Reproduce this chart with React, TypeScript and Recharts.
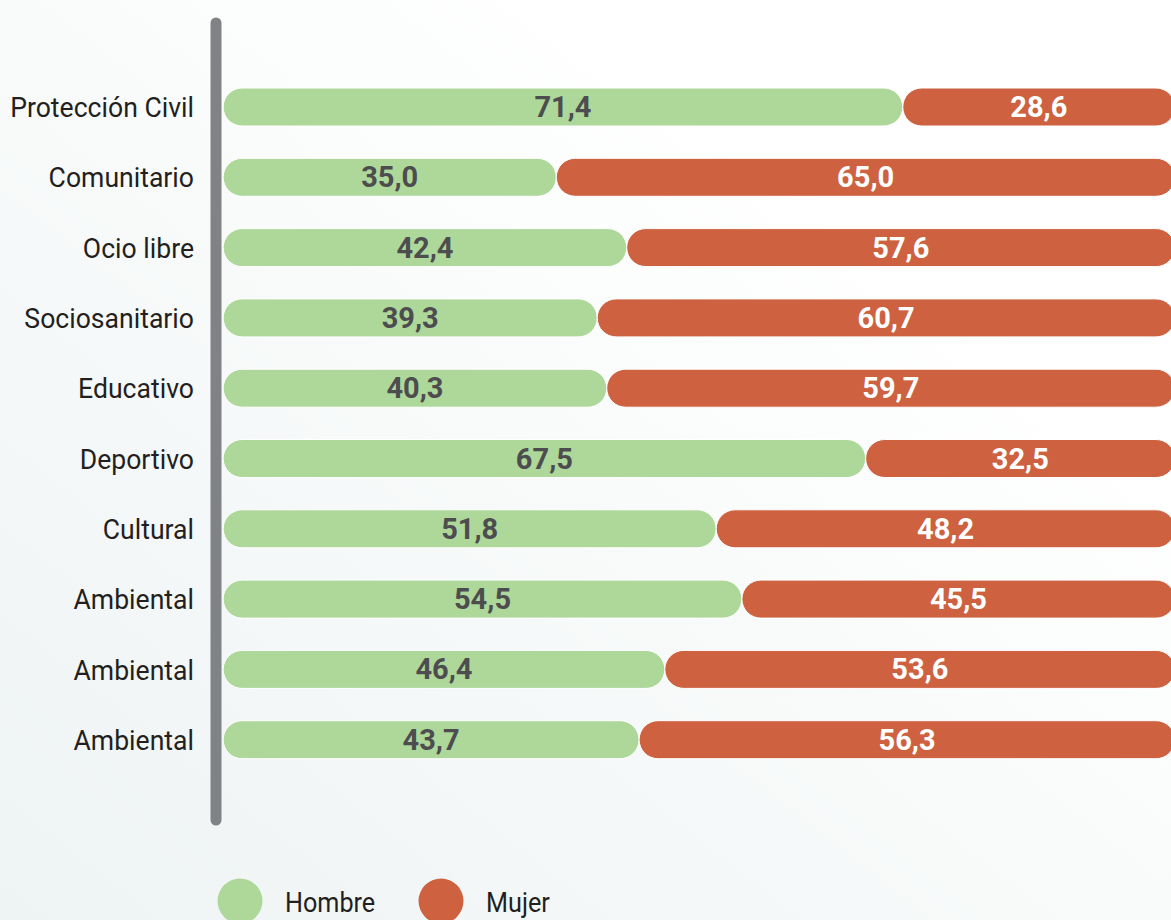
import { BarChart, Bar, XAxis, YAxis, LabelList } from "recharts";

const categories = [
  "Protección Civil",
  "Comunitario",
  "Ocio libre",
  "Sociosanitario",
  "Educativo",
  "Deportivo",
  "Cultural",
  "Ambiental",
  "Ambiental",
  "Ambiental",
];
const hombre = [71.4, 35.0, 42.4, 39.3, 40.3, 67.5, 51.8, 54.5, 46.4, 43.7];
const mujer = [28.6, 65.0, 57.6, 60.7, 59.7, 32.5, 48.2, 45.5, 53.6, 56.3];
const seriesNames = ["Hombre", "Mujer"];

const GREEN = "#aed79a";
const RED = "#cd6140";
const AXIS_GRAY = "#808285";
const FONT = "Roboto, 'Noto Sans', sans-serif";

const data = categories.map((name, i) => ({
  id: `${i}`,
  name,
  hombre: hombre[i],
  mujer: mujer[i],
}));

const fmt = (v: number) => v.toFixed(1).replace(".", ",");

const CategoryTick = ({ x, y, payload, index }: any) => (
  <text
    transform={`translate(${x - 22},${y + 10}) scale(0.95,1)`}
    textAnchor="end"
    fontFamily={FONT}
    fontSize={28}
    fill="#231f20"
  >
    {categories[index] ?? payload.value}
  </text>
);

const makeLabel = (color: string) => (props: any) => {
  const { x, y, width, height, value } = props;
  return (
    <text
      x={x + width / 2}
      y={y + height / 2 + 10}
      textAnchor="middle"
      fontFamily={FONT}
      fontWeight={700}
      fontSize={29}
      fill={color}
    >
      {fmt(Number(value))}
    </text>
  );
};

export default function App() {
  return (
    <div
      style={{
        position: "absolute",
        left: 0,
        top: 0,
        width: 1171,
        height: 920,
        overflow: "hidden",
        background: "linear-gradient(to top right, #eef3f4 0%, #f8fafa 45%, #ffffff 75%)",
      }}
    >
      <BarChart
        width={1175}
        height={920}
        data={data}
        layout="vertical"
        margin={{ top: 23, right: 0, bottom: 100, left: 0 }}
        barSize={38}
      >
        <XAxis type="number" domain={[-0.75, 100]} allowDataOverflow hide />
        <YAxis
          type="category"
          dataKey="id"
          width={216}
          padding={{ top: 49, bottom: 45 }}
          tickLine={false}
          tickSize={0}
          tickMargin={0}
          axisLine={{ stroke: AXIS_GRAY, strokeWidth: 11, strokeLinecap: "round" }}
          tick={<CategoryTick />}
        />
        <Bar
          dataKey="hombre"
          name={seriesNames[0]}
          stackId="a"
          fill={GREEN}
          stroke="#ffffff"
          strokeWidth={1}
          radius={19}
          isAnimationActive={false}
        >
          <LabelList dataKey="hombre" content={makeLabel("#4d4d4f")} />
        </Bar>
        <Bar
          dataKey="mujer"
          name={seriesNames[1]}
          stackId="a"
          fill={RED}
          stroke="#ffffff"
          strokeWidth={1}
          radius={19}
          isAnimationActive={false}
        >
          <LabelList dataKey="mujer" content={makeLabel("#ffffff")} />
        </Bar>
      </BarChart>
      <svg
        width={1171}
        height={920}
        style={{ position: "absolute", left: 0, top: 0, pointerEvents: "none" }}
      >
        {seriesNames.map((n, i) => (
          <g key={n} transform={`translate(${240 + i * 201},901)`}>
            <circle r={22.5} fill={i === 0 ? GREEN : RED} />
            <text
              transform="translate(45,11) scale(0.9,1)"
              fontFamily={FONT}
              fontSize={28}
              fill="#231f20"
            >
              {n}
            </text>
          </g>
        ))}
      </svg>
    </div>
  );
}
